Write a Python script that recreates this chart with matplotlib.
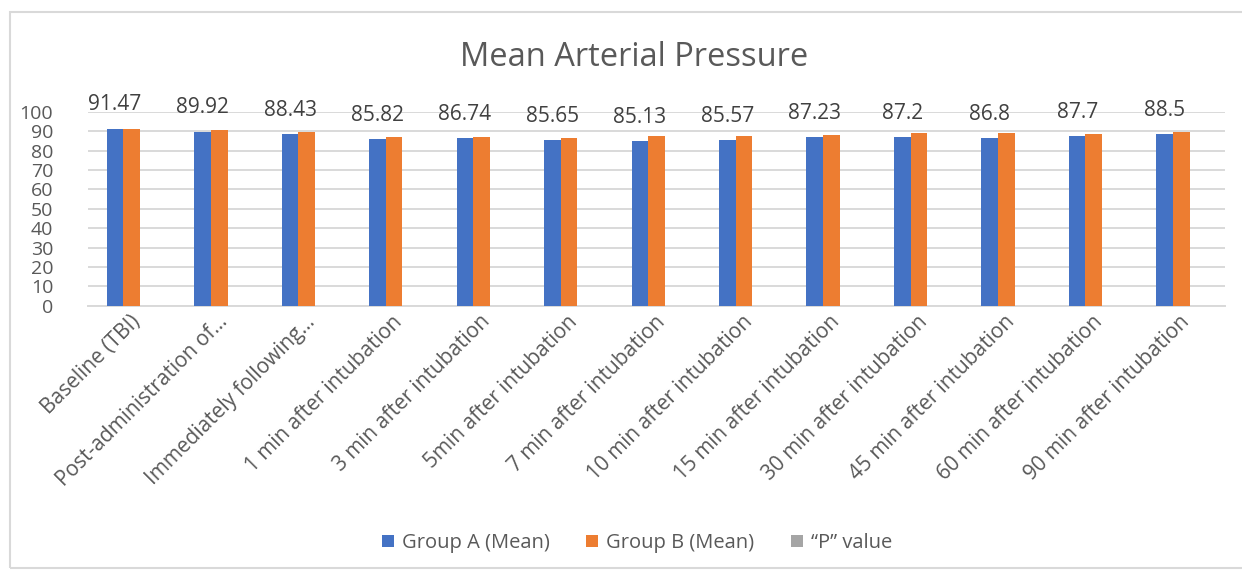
import matplotlib
matplotlib.use("Agg")
import matplotlib.pyplot as plt
import matplotlib.transforms as mtrans
import numpy as np
from matplotlib.patches import Rectangle

categories = ["Baseline (TBI)", "Post-administration of...", "Immediately following...",
              "1 min after intubation", "3 min after intubation", "5min after intubation",
              "7 min after intubation", "10 min after intubation", "15 min after intubation",
              "30 min after intubation", "45 min after intubation", "60 min after intubation",
              "90 min after intubation"]
group_a = [91.47, 89.92, 88.43, 85.82, 86.74, 85.65, 85.13, 85.57, 87.23, 87.2, 86.8, 87.7, 88.5]
group_b = [91.0, 90.5, 89.8, 87.2, 87.2, 86.4, 87.4, 87.4, 88.1, 89.2, 89.2, 88.6, 89.5]
p_value = [0.04, 0.06, 0.05, 0.03, 0.07, 0.05, 0.02, 0.03, 0.08, 0.04, 0.02, 0.06, 0.05]
series_names = ["Group A (Mean)", "Group B (Mean)", "\u201cP\u201d value"]
colors = ["#4472C4", "#ED7D31", "#A5A5A5"]
yticks = [0, 10, 20, 30, 40, 50, 60, 70, 80, 90, 100]

plt.rcParams['font.family'] = ['Open Sans', 'DejaVu Sans']
txt = "#595959"

fig = plt.figure(figsize=(12.42, 5.72), dpi=100)
ax = fig.add_axes([88/1242, 1 - 305.7/572, (1225-88)/1242, (305.7-112)/572])

x = np.arange(len(categories))
w = 0.19
ax.bar(x - w, group_a, w, color=colors[0], label=series_names[0], zorder=3)
ax.bar(x, group_b, w, color=colors[1], label=series_names[1], zorder=3)
ax.bar(x + w, p_value, w, color=colors[2], label=series_names[2], zorder=3)

for xi, v in zip(x - w, group_a):
    ax.annotate(f"{v:g}", (xi, v), xytext=(0, 13), textcoords="offset points",
                ha="center", va="baseline", fontsize=15, color="#404040",
                annotation_clip=False)

ax.set_xlim(-0.5, len(categories) - 0.5)
ax.set_ylim(0, 100)
ax.set_yticks(yticks)
ax.set_yticklabels([str(t) for t in yticks], fontsize=14, color=txt)
ax.tick_params(axis='y', length=0, pad=25)
ax.tick_params(axis='x', length=0, pad=4)
ax.set_xticks(x)
ax.set_xticklabels(categories, rotation=45, ha="right", rotation_mode="anchor",
                   fontsize=15, color=txt)
ax.grid(axis='y', color="#d9d9d9", linewidth=1.4, zorder=0)
ax.set_axisbelow(True)
for s in ["top", "right", "left"]:
    ax.spines[s].set_visible(False)
ax.spines["bottom"].set_color("#d9d9d9")
ax.spines["bottom"].set_linewidth(1.4)

offset = mtrans.ScaledTranslation(-2/100, 0, fig.dpi_scale_trans)
for lbl in ax.get_xticklabels():
    lbl.set_transform(lbl.get_transform() + offset)

fig.text(634/1242, 1 - 58/572, "Mean Arterial Pressure", ha="center", va="center",
         fontsize=23.5, color=txt)

leg = fig.legend(loc="center", bbox_to_anchor=(637/1242, 1 - 543/572), ncol=3,
                 frameon=False, fontsize=14.5, handlelength=0.6, handleheight=0.6,
                 columnspacing=1.8, handletextpad=0.4)
for t in leg.get_texts():
    t.set_color(txt)

fig.patches.append(Rectangle((10/1242, 4/572), 1240/1242, 556/572, transform=fig.transFigure,
                             fill=False, edgecolor="#d9d9d9", linewidth=1.5))

fig.savefig("out.png", dpi=100, facecolor="white")
